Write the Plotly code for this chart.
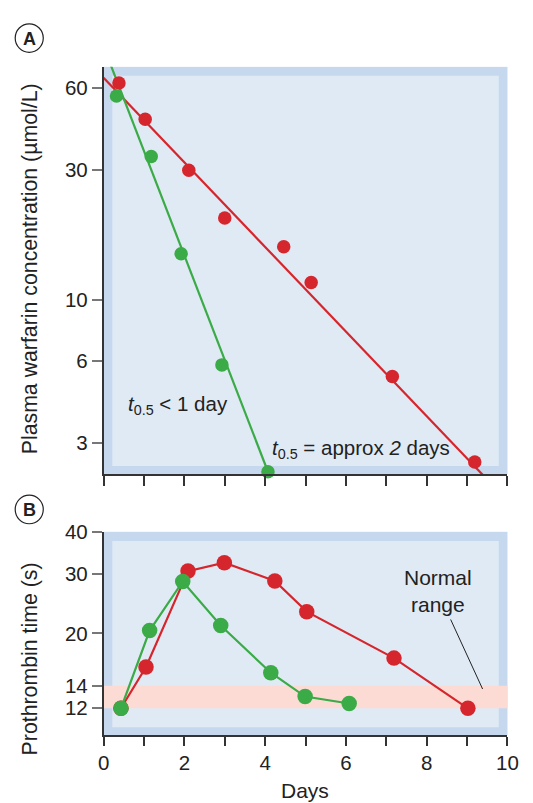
import plotly.graph_objects as go
import numpy as np

W, H = 533, 803
def px(x): return x / W
def py(y): return 1 - y / H

RED = "#d6262d"
GREEN = "#3aab47"
OUTER = "#c6d8ee"
INNER = "#e0eaf5"
PINK = "#fcdbd5"
AX = "#333333"
TXT = "#222222"
FONT = "Liberation Sans, Arial, sans-serif"

# ---- Panel A data: plasma warfarin concentration (umol/L) ----
a_red_days = [0.38, 1.03, 2.11, 3.0, 4.46, 5.14, 7.15, 9.19]
a_red_conc = [62.5, 46.0, 29.9, 20.0, 15.7, 11.6, 5.25, 2.55]
a_green_days = [0.32, 1.18, 1.92, 2.93, 4.07]
a_green_conc = [56.0, 33.6, 14.8, 5.79, 2.35]
# fitted elimination lines
a_red_fit_days = [0.0, 10.0]
a_red_fit_conc = [65.3, 1.84]
a_green_fit_days = [0.0, 4.07]
a_green_fit_conc = [85.0, 2.35]
a_yticks = [3, 6, 10, 30, 60]

# ---- Panel B data: prothrombin time (s) ----
b_red_days = [0.43, 1.05, 2.09, 2.99, 4.24, 5.03, 7.19, 9.02]
b_red_pt = [12.0, 15.9, 30.6, 32.4, 28.6, 23.2, 16.9, 12.0]
b_green_days = [0.43, 1.14, 1.96, 2.90, 4.14, 4.99, 6.08]
b_green_pt = [12.0, 20.4, 28.5, 21.1, 15.3, 13.0, 12.4]
b_yticks = [12, 14, 20, 30, 40]
normal_range = [12, 14]

x_ticks = list(range(0, 11))
x_ticklabels = [str(v) if v % 2 == 0 else "" for v in x_ticks]
x_inner_ticks = list(range(1, 10))

# geometry (pixels)
XL, XR = 100.8, 518.0
A_T, A_B = 55.7, 469.0
B_T, B_B = 527.7, 734.0
PW = XR - XL

fig = go.Figure()

# Panel A traces
fig.add_trace(go.Scatter(x=a_red_fit_days, y=a_red_fit_conc, mode="lines",
                         line=dict(color=RED, width=2.2), xaxis="x", yaxis="y", hoverinfo="skip"))
fig.add_trace(go.Scatter(x=a_green_fit_days, y=a_green_fit_conc, mode="lines",
                         line=dict(color=GREEN, width=2.2), xaxis="x", yaxis="y", hoverinfo="skip"))
fig.add_trace(go.Scatter(x=a_red_days, y=a_red_conc, mode="markers",
                         marker=dict(color=RED, size=13.5), xaxis="x", yaxis="y", cliponaxis=False))
fig.add_trace(go.Scatter(x=a_green_days, y=a_green_conc, mode="markers",
                         marker=dict(color=GREEN, size=13.5), xaxis="x", yaxis="y", cliponaxis=False))

# Panel B traces
fig.add_trace(go.Scatter(x=b_red_days, y=b_red_pt, mode="lines+markers",
                         line=dict(color=RED, width=2.2), marker=dict(color=RED, size=15.5),
                         xaxis="x2", yaxis="y2", cliponaxis=False))
fig.add_trace(go.Scatter(x=b_green_days, y=b_green_pt, mode="lines+markers",
                         line=dict(color=GREEN, width=2.2), marker=dict(color=GREEN, size=15.5),
                         xaxis="x2", yaxis="y2", cliponaxis=False))

xdom = [px(XL), px(XR)]
adom = [py(A_B), py(A_T)]
bdom = [py(B_B), py(B_T)]

common_line = dict(showline=True, linecolor=AX, linewidth=1.5, showgrid=False, zeroline=False)
tickfont = dict(family=FONT, size=20.5, color=TXT)

a_lo, a_hi = 2.306, 71.6
b_lo, b_hi = 10.0, 40.0

fig.update_layout(
    width=W, height=H,
    margin=dict(l=0, r=0, t=0, b=0),
    paper_bgcolor="white",
    plot_bgcolor=OUTER,
    showlegend=False,
    font=dict(family=FONT, color=TXT),
    # Panel A
    xaxis=dict(domain=xdom, anchor="y", range=[0, 10], tickvals=x_ticks, ticks="outside",
               ticklen=10, tickcolor=AX, tickwidth=1.5, showticklabels=False, **common_line),
    yaxis=dict(domain=adom, anchor="x", type="log", range=[np.log10(a_lo), np.log10(a_hi)],
               tickvals=a_yticks, ticktext=[str(v) for v in a_yticks], ticks="outside",
               ticklen=10, tickcolor="#777777", tickwidth=1.5, tickfont=tickfont, **common_line),
    xaxis3=dict(overlaying="x", anchor="y", side="top", range=[0, 10], tickvals=x_inner_ticks,
                ticks="inside", ticklen=10, tickcolor=AX, tickwidth=1.5, showticklabels=False,
                **common_line),
    yaxis3=dict(overlaying="y", anchor="x", side="right", range=[0, 1],
                tickvals=[1/6, 2/6, 3/6, 4/6, 5/6], ticks="inside", ticklen=10, tickcolor=AX,
                tickwidth=1.5, showticklabels=False, **common_line),
    # Panel B
    xaxis2=dict(domain=xdom, anchor="y2", range=[0, 10], tickvals=x_ticks, ticktext=x_ticklabels,
                ticks="outside", ticklen=9, tickcolor=AX, tickwidth=1.5, tickfont=tickfont,
                **common_line),
    yaxis2=dict(domain=bdom, anchor="x2", type="log", range=[np.log10(b_lo), np.log10(b_hi)],
                tickvals=b_yticks, ticktext=[str(v) for v in b_yticks], ticks="outside",
                ticklen=10, tickcolor="#777777", tickwidth=1.5, tickfont=tickfont, **common_line),
    xaxis4=dict(overlaying="x2", anchor="y2", side="top", range=[0, 10], tickvals=x_inner_ticks,
                ticks="inside", ticklen=10, tickcolor=AX, tickwidth=1.5, showticklabels=False,
                **common_line),
    yaxis4=dict(overlaying="y2", anchor="x2", side="right", range=[0, 1],
                tickvals=[2/6, 3/6, 4/6, 5/6], ticks="inside", ticklen=10, tickcolor=AX,
                tickwidth=1.5, showticklabels=False, **common_line),
)

shapes = []
# inner lighter panels
shapes.append(dict(type="rect", xref="x domain", yref="y domain",
                   x0=9/PW, x1=1-9/PW, y0=8/413.3, y1=1-9/413.3,
                   fillcolor=INNER, line=dict(width=0), layer="below"))
shapes.append(dict(type="rect", xref="x2 domain", yref="y2 domain",
                   x0=9/PW, x1=1-9/PW, y0=8/206.3, y1=1-9.3/206.3,
                   fillcolor=INNER, line=dict(width=0), layer="below"))
# normal range band
shapes.append(dict(type="rect", xref="x2 domain", yref="y2",
                   x0=0, x1=1, y0=normal_range[0], y1=normal_range[1],
                   fillcolor=PINK, line=dict(width=0), layer="below"))
# pointer line for "Normal range"
shapes.append(dict(type="line", xref="paper", yref="paper",
                   x0=px(459.3), y0=py(616.7), x1=px(492.3), y1=py(687.3),
                   line=dict(color=TXT, width=1)))
# circled panel letters
for cy in (26.5, 505):
    shapes.append(dict(type="circle", xref="paper", yref="paper",
                       x0=px(24-14.5), x1=px(24+14.5), y0=py(cy+14.5), y1=py(cy-14.5),
                       line=dict(color=TXT, width=1.2)))
fig.update_layout(shapes=shapes)

ann = []
ann.append(dict(text="<b>A</b>", x=px(24), y=py(27), xref="paper", yref="paper",
                showarrow=False, font=dict(family=FONT, size=18, color=TXT),
                xanchor="center", yanchor="middle"))
ann.append(dict(text="<b>B</b>", x=px(24), y=py(505.5), xref="paper", yref="paper",
                showarrow=False, font=dict(family=FONT, size=18, color=TXT),
                xanchor="center", yanchor="middle"))
ann.append(dict(text="Plasma warfarin concentration (µmol/L)", textangle=-90,
                x=px(25), y=py(261), xref="paper", yref="paper", showarrow=False,
                font=dict(family=FONT, size=21.3, color=TXT), xanchor="center", yanchor="middle"))
ann.append(dict(text="Prothrombin time (s)", textangle=-90,
                x=px(25), y=py(657), xref="paper", yref="paper", showarrow=False,
                font=dict(family=FONT, size=21.3, color=TXT), xanchor="center", yanchor="middle"))
ann.append(dict(text="Days", x=px(309), y=py(790), xref="paper", yref="paper", showarrow=False,
                font=dict(family=FONT, size=21, color=TXT), xanchor="center", yanchor="middle"))
ann.append(dict(text="<i>t</i><sub>0.5</sub> &lt; 1 day", x=px(124), y=py(399),
                xref="paper", yref="paper", showarrow=False,
                font=dict(family=FONT, size=20.5, color=TXT), xanchor="left", yanchor="middle"))
ann.append(dict(text="<i>t</i><sub>0.5</sub> = approx <i>2</i> days", x=px(272.5), y=py(444),
                xref="paper", yref="paper", showarrow=False,
                font=dict(family=FONT, size=20.5, color=TXT), xanchor="left", yanchor="middle"))
ann.append(dict(text="Normal<br>range", x=px(446), y=py(588), xref="paper", yref="paper",
                showarrow=False, font=dict(family=FONT, size=21, color=TXT),
                xanchor="center", yanchor="middle"))
fig.update_layout(annotations=ann)

fig.write_html("out.html", config={"displayModeBar": False},
               post_script="document.body.style.margin='0';")
